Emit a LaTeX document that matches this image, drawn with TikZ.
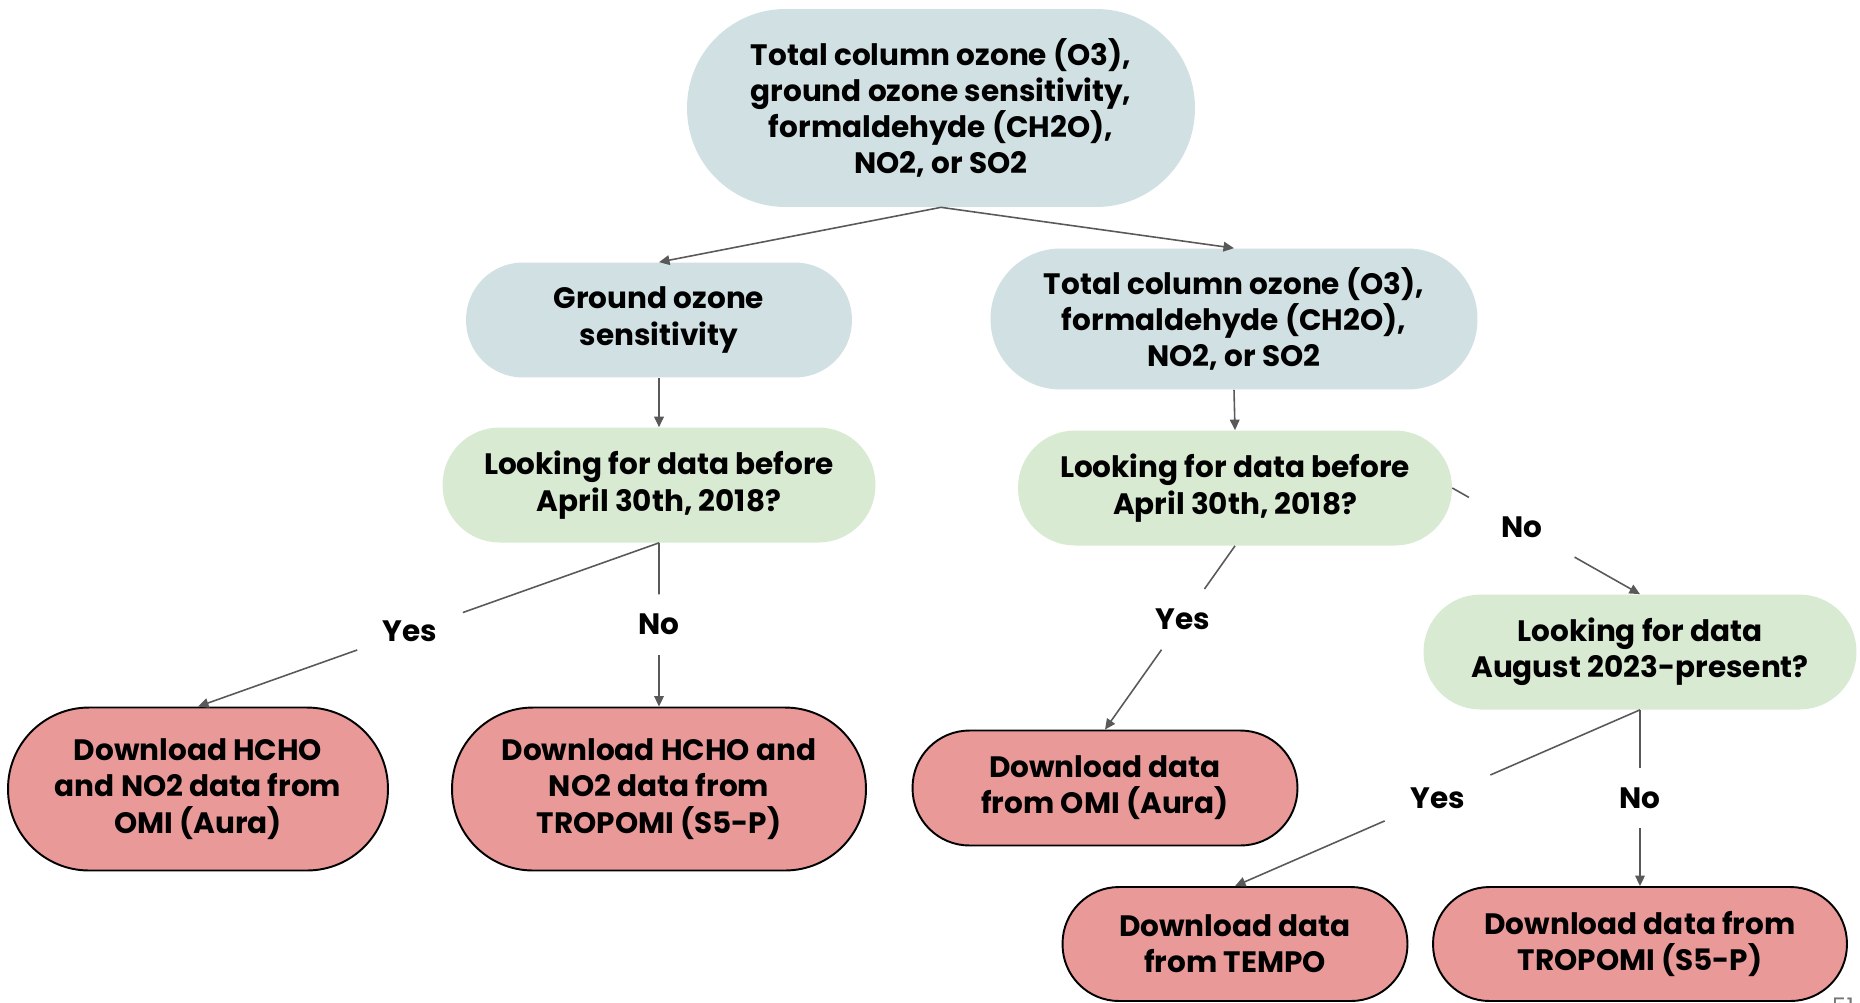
\documentclass[tikz,border=0pt]{standalone}
\usepackage{fontspec}
\setmainfont{Poppins}
\usetikzlibrary{arrows.meta, positioning, calc}
\definecolor{topicBlue}{HTML}{D0E0E3}
\definecolor{askGreen}{HTML}{D9EAD3}
\definecolor{resultRed}{HTML}{EA9999}
\definecolor{lineGray}{HTML}{595959}
\definecolor{pageGray}{HTML}{757575}

\begin{document}
\begin{tikzpicture}[
    x=0.02cm, y=-0.02cm,
    box/.style={
        rectangle,
        align=center,
        inner sep=0pt,
        font=\fontsize{16.8}{20.6}\selectfont\bfseries,
        text=black
    },
    topic/.style={
        box,
        fill=topicBlue
    },
    question/.style={
        box,
        fill=askGreen,
        minimum height=2.3cm,
        rounded corners=1.14cm
    },
    result/.style={
        box,
        fill=resultRed,
        draw=black,
        line width=1.1pt
    },
    answer/.style={
        rectangle,
        inner sep=0pt,
        minimum width=2.1cm,
        minimum height=1.2cm,
        font=\fontsize{16.8}{20.6}\selectfont\bfseries
    },
    link/.style={
        draw=lineGray,
        line width=0.9pt
    },
    arrow/.style={
        link,
        -{Triangle[length=6pt,width=5.5pt]}
    }
]
\useasboundingbox (0,0) rectangle (1860,1002);

% Pollutant choice
\node[topic, minimum width=10.16cm, minimum height=3.96cm, rounded corners=1.97cm] (all) at (941,108)
    {Total column ozone (O3),\\ground ozone sensitivity,\\formaldehyde (CH2O),\\NO2, or SO2};
\node[topic, minimum width=7.72cm, minimum height=2.3cm, rounded corners=1.14cm] (gos) at (659,320)
    {Ground ozone\\sensitivity};
\node[topic, minimum width=9.74cm, minimum height=2.82cm, rounded corners=1.4cm] (tcol) at (1234,319)
    {Total column ozone (O3),\\formaldehyde (CH2O),\\NO2, or SO2};

% Date questions
\node[question, minimum width=8.66cm] (ask1) at (659,485) {Looking for data before\\April 30th, 2018?};
\node[question, minimum width=8.68cm] (ask2) at (1235,488) {Looking for data before\\April 30th, 2018?};
\node[question, minimum width=8.66cm] (ask3) at (1640,652) {Looking for data\\August 2023-present?};

% Downloads
\node[result, minimum width=7.6cm, minimum height=3.26cm, rounded corners=1.62cm] (res1) at (198,789)
    {Download HCHO\\and NO2 data from\\OMI (Aura)};
\node[result, minimum width=8.28cm, minimum height=3.26cm, rounded corners=1.62cm] (res2) at (659,789)
    {Download HCHO and\\NO2 data from\\TROPOMI (S5-P)};
\node[result, minimum width=7.7cm, minimum height=2.3cm, rounded corners=1.14cm] (res3) at (1105,788)
    {Download data\\from OMI (Aura)};
\node[result, minimum width=6.9cm, minimum height=2.28cm, rounded corners=1.13cm] (res4) at (1235,944)
    {Download data\\from TEMPO};
\node[result, minimum width=8.28cm, minimum height=2.28cm, rounded corners=1.13cm] (res5) at (1640,944)
    {Download data from\\TROPOMI (S5-P)};

% Yes / No labels
\node[answer] (yes1) at ($(ask1.south)!0.54!(res1.north)$) {Yes};
\node[answer] (no1) at ($(ask1.south)!0.5!(res2.north)$) {No};
\node[answer] (yes2) at ($(ask2.south)!0.4!(res3.north)$) {Yes};
\node[answer] (no2) at ($(ask2.east)!0.37!(ask3.north)$) {No};
\node[answer] (yes3) at ($(ask3.south)!0.5!(res4.north)$) {Yes};
\node[answer] (no3) at ($(ask3.south)!0.5!(res5.north)$) {No};

% Arrows
\draw[arrow] (all.south) -- (gos.north);
\draw[arrow] (all.south) -- (tcol.north);
\draw[arrow] (gos.south) -- (ask1.north);
\draw[arrow] (tcol.south) -- (ask2.north);

\draw[link] (ask1.south) -- (yes1);
\draw[arrow] (yes1) -- (res1.north);
\draw[link] (ask1.south) -- (no1);
\draw[arrow] (no1) -- (res2.north);

\draw[link] (ask2.south) -- (yes2);
\draw[arrow] (yes2) -- (res3.north);
\draw[link] (ask2.east) -- (no2);
\draw[arrow] (no2) -- (ask3.north);

\draw[link] (ask3.south) -- (yes3);
\draw[arrow] (yes3) -- (res4.north);
\draw[link] (ask3.south) -- (no3);
\draw[arrow] (no3) -- (res5.north);

% Slide number
\node[font=\fontsize{13}{15}\selectfont, text=pageGray] (page) at (1843,1006) {51};

\end{tikzpicture}
\end{document}
